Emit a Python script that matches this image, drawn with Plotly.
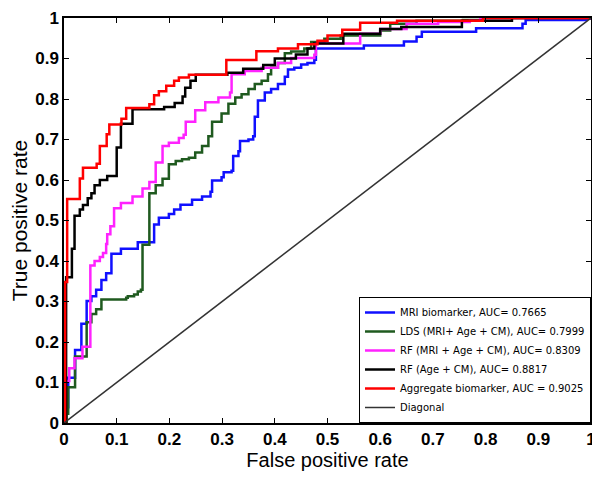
import plotly.graph_objects as go

# ROC curves (false positive rate, true positive rate)
mri_fpr = [0, 0.002, 0.008, 0.021, 0.033, 0.043, 0.052, 0.061, 0.071, 0.08, 0.09, 0.108, 0.14, 0.162, 0.171, 0.18, 0.199,
           0.209, 0.221, 0.243, 0.262, 0.278, 0.281, 0.299, 0.303, 0.318, 0.321, 0.331, 0.334, 0.35, 0.359, 0.362, 0.368,
           0.381, 0.393, 0.406, 0.419, 0.425, 0.437, 0.45, 0.462, 0.475, 0.478, 0.569, 0.645, 0.669, 0.679, 0.782, 0.87,
           0.876, 0.99, 1.0]
mri_tpr = [0, 0.039, 0.112, 0.18, 0.245, 0.301, 0.313, 0.329, 0.353, 0.37, 0.418, 0.43, 0.446, 0.446, 0.49, 0.507, 0.516,
           0.527, 0.539, 0.551, 0.559, 0.571, 0.599, 0.607, 0.619, 0.623, 0.659, 0.671, 0.696, 0.7, 0.708, 0.756, 0.796,
           0.816, 0.825, 0.837, 0.855, 0.873, 0.877, 0.885, 0.889, 0.897, 0.925, 0.932, 0.942, 0.954, 0.966, 0.975, 0.986,
           0.995, 0.998, 1.0]

lds_fpr = [0, 0.005, 0.008, 0.021, 0.043, 0.052, 0.061, 0.071, 0.118, 0.121, 0.133, 0.14, 0.146, 0.149, 0.162, 0.174,
           0.187, 0.199, 0.212, 0.224, 0.237, 0.249, 0.262, 0.274, 0.281, 0.299, 0.312, 0.325, 0.337, 0.35, 0.362, 0.375,
           0.387, 0.393, 0.406, 0.419, 0.431, 0.456, 0.469, 0.494, 0.525, 0.6, 0.619, 0.669, 0.757, 0.795, 1.0]
lds_tpr = [0, 0.023, 0.088, 0.164, 0.249, 0.269, 0.281, 0.305, 0.309, 0.313, 0.317, 0.325, 0.329, 0.44, 0.567, 0.587,
           0.603, 0.639, 0.647, 0.651, 0.655, 0.668, 0.684, 0.708, 0.744, 0.764, 0.788, 0.804, 0.812, 0.825, 0.837, 0.845,
           0.861, 0.877, 0.889, 0.913, 0.917, 0.925, 0.941, 0.949, 0.957, 0.969, 0.986, 0.993, 0.995, 1.0, 1.0]

rf_full_fpr = [0, 0.002, 0.01, 0.02, 0.035, 0.05, 0.058, 0.068, 0.074, 0.08, 0.082, 0.088, 0.095, 0.108, 0.13, 0.149,
               0.162, 0.174, 0.187, 0.199, 0.218, 0.227, 0.231, 0.249, 0.268, 0.293, 0.315, 0.318, 0.343, 0.375, 0.406,
               0.431, 0.475, 0.478, 0.562, 0.6, 0.65, 0.71, 0.77, 0.79, 1.0]
rf_full_tpr = [0, 0.104, 0.135, 0.16, 0.188, 0.389, 0.4, 0.41, 0.42, 0.442, 0.466, 0.486, 0.53, 0.543, 0.559, 0.579,
               0.595, 0.643, 0.684, 0.692, 0.704, 0.712, 0.744, 0.772, 0.792, 0.804, 0.816, 0.861, 0.869, 0.877, 0.889,
               0.901, 0.909, 0.937, 0.961, 0.973, 0.986, 0.99, 0.993, 1.0, 1.0]

rf_age_fpr = [0, 0.004, 0.015, 0.02, 0.03, 0.036, 0.045, 0.052, 0.058, 0.068, 0.082, 0.1, 0.108, 0.13, 0.19, 0.21,
              0.225, 0.23, 0.24, 0.25, 0.31, 0.34, 0.378, 0.4, 0.44, 0.462, 0.475, 0.53, 0.6, 0.64, 0.755, 0.85, 1.0]
rf_age_tpr = [0, 0.36, 0.43, 0.512, 0.527, 0.538, 0.555, 0.567, 0.587, 0.6, 0.61, 0.68, 0.739, 0.775, 0.78, 0.79,
              0.806, 0.828, 0.845, 0.86, 0.865, 0.875, 0.884, 0.9, 0.91, 0.925, 0.937, 0.961, 0.973, 0.978, 0.993, 1.0, 1.0]

agg_fpr = [0, 0.002, 0.006, 0.03, 0.036, 0.062, 0.068, 0.081, 0.086, 0.109, 0.118, 0.162, 0.171, 0.18, 0.194, 0.209,
           0.218, 0.237, 0.308, 0.365, 0.406, 0.444, 0.481, 0.5, 0.528, 0.562, 0.632, 0.795, 1.0]
agg_tpr = [0, 0.348, 0.553, 0.604, 0.63, 0.64, 0.684, 0.713, 0.737, 0.751, 0.778, 0.787, 0.809, 0.819, 0.833, 0.845,
           0.853, 0.86, 0.896, 0.918, 0.925, 0.935, 0.944, 0.957, 0.971, 0.988, 0.993, 1.0, 1.0]

diag_x = [0, 1]
diag_y = [0, 1]

tick_vals = [0, 0.1, 0.2, 0.3, 0.4, 0.5, 0.6, 0.7, 0.8, 0.9, 1]
tick_text = ["0", "0.1", "0.2", "0.3", "0.4", "0.5", "0.6", "0.7", "0.8", "0.9", "1"]

names = ["MRI biomarker, AUC= 0.7665",
         "LDS (MRI+ Age + CM), AUC= 0.7999",
         "RF (MRI + Age + CM), AUC= 0.8309",
         "RF (Age + CM), AUC= 0.8817",
         "Aggregate biomarker, AUC = 0.9025",
         "Diagonal"]
colors = ["#1010ff", "#1f5a1f", "#ff22ff", "#000000", "#ff0000", "#333333"]

series = [(mri_fpr, mri_tpr), (lds_fpr, lds_tpr), (rf_full_fpr, rf_full_tpr),
          (rf_age_fpr, rf_age_tpr), (agg_fpr, agg_tpr)]

fig = go.Figure()
for (xs, ys), name, col in zip(series, names[:5], colors[:5]):
    fig.add_trace(go.Scatter(x=xs, y=ys, mode="lines", name=name,
                             line=dict(color=col, width=2.5, shape="hv")))
fig.add_trace(go.Scatter(x=diag_x, y=diag_y, mode="lines", name=names[5],
                         line=dict(color=colors[5], width=1.5)))

axis_common = dict(range=[0, 1], tickmode="array", tickvals=tick_vals, ticktext=tick_text,
                   showgrid=False, zeroline=False, automargin=False, ticklabeloverflow="allow",
                   showline=True, linecolor="black", linewidth=1.5, mirror="ticks",
                   ticks="inside", ticklen=5, tickcolor="black")

fig.update_xaxes(**axis_common,
                 tickfont=dict(family="Liberation Sans, Arial", size=17, color="black", weight="bold"),
                 title=dict(text="False positive rate", standoff=4,
                            font=dict(family="Liberation Sans, Arial", size=20, color="black")))
fig.update_yaxes(**axis_common,
                 tickfont=dict(family="Liberation Sans, Arial", size=17, color="black", weight="bold"),
                 title=dict(text="True positive rate", standoff=5,
                            font=dict(family="Liberation Sans, Arial", size=21, color="black")))

# the page body adds an 8px offset, so the figure is sized to fit the visible window
fig.update_layout(
    width=592, height=472,
    margin=dict(l=56, r=9, t=10, b=57, autoexpand=False),
    plot_bgcolor="white", paper_bgcolor="white",
    legend=dict(x=1.0, y=0.0, xanchor="right", yanchor="bottom",
                bgcolor="white", bordercolor="black", borderwidth=1,
                font=dict(family="DejaVu Sans, Arial", size=10, color="black"),
                tracegroupgap=0),
    showlegend=True,
)

fig.write_html("out.html")
